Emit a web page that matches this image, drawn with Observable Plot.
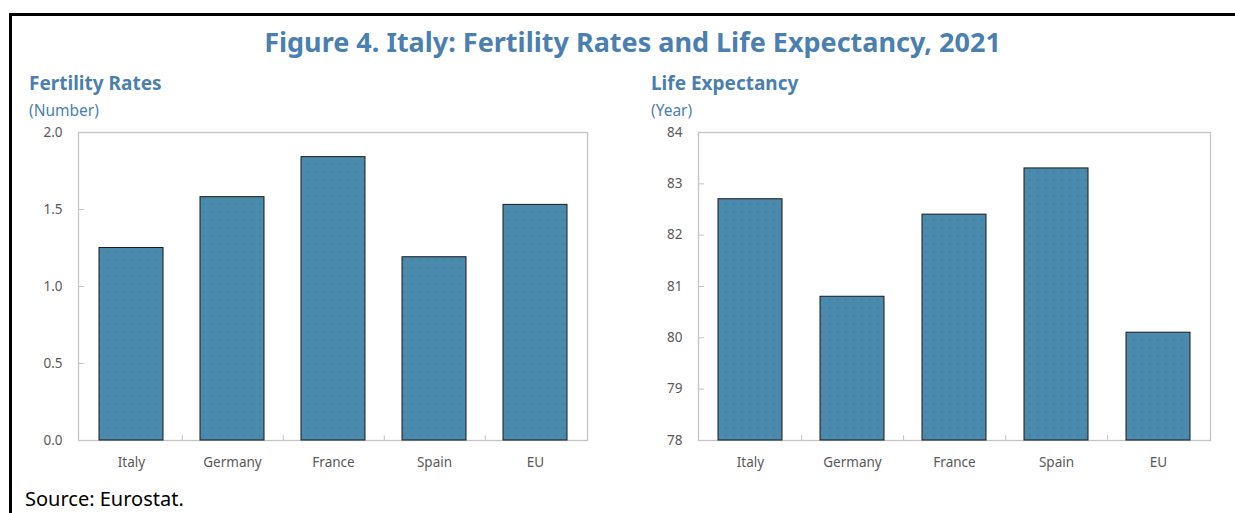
<!DOCTYPE html>
<html>
<head>
<meta charset="utf-8">
<script src="https://cdn.jsdelivr.net/npm/d3@7"></script>
<script src="https://cdn.jsdelivr.net/npm/@observablehq/plot@0.6"></script>
<style>
  html, body { margin: 0; padding: 0; background: #fff; }
  #wrap { position: relative; width: 1235px; height: 513px; overflow: hidden; font-family: "Noto Sans", "Open Sans", sans-serif; }
  .frameTop { position: absolute; left: 9px; top: 13px; width: 1226px; height: 3px; background: #000; }
  .frameLeft { position: absolute; left: 9px; top: 13px; width: 3px; height: 500px; background: #000; }
  .title { position: absolute; left: 30px; width: 1205px; top: 24px; text-align: center; font-weight: 700; font-size: 27px; line-height: 36px; color: #4a7fb0; white-space: nowrap; }
  .sub { position: absolute; font-weight: 700; font-size: 19px; line-height: 24px; color: #4a7fb0; white-space: nowrap; }
  .unit { position: absolute; font-size: 15.5px; line-height: 20px; color: #4a7fb0; white-space: nowrap; }
  .source { position: absolute; left: 25px; top: 487px; font-size: 20px; line-height: 24px; color: #000; white-space: nowrap; }
  .plot { position: absolute; top: 120px; }
</style>
</head>
<body>
<div id="wrap">
  <div class="frameTop"></div>
  <div class="frameLeft"></div>
  <div class="title">Figure 4. Italy: Fertility Rates and Life Expectancy, 2021</div>
  <div class="sub" style="left:29px; top:71px;">Fertility Rates</div>
  <div class="unit" style="left:29px; top:100px;">(Number)</div>
  <div class="sub" style="left:651px; top:71px;">Life Expectancy</div>
  <div class="unit" style="left:651px; top:100px;">(Year)</div>
  <div class="plot" id="left" style="left:0px;"></div>
  <div class="plot" id="right" style="left:610px;"></div>
  <div class="source">Source: Eurostat.</div>
</div>
<script>
const countries = ["Italy", "Germany", "France", "Spain", "EU"];
const fertility = [1.25, 1.58, 1.84, 1.19, 1.53];
const lifeExpectancy = [82.7, 80.8, 82.4, 83.3, 80.1];
const fertilityTicks = [0, 0.5, 1.0, 1.5, 2.0];
const lifeTicks = [78, 79, 80, 81, 82, 83, 84];
const fertilityDomain = [0, 2];
const lifeDomain = [78, 84];

const barFill = "#4a8aad";
const dotColor = "#3f73a3";
const fontFam = "'Noto Sans', 'Open Sans', sans-serif";
const paddingInner = 0.37;
const paddingOuter = 0.19;

const inwardTick = {
  draw(context, l) { context.moveTo(0, 0); context.lineTo(0, -l); }
};

function makeChart(id, values, domain, ticks, fmt, opts) {
  const data = countries.map((c, i) => ({country: c, value: values[i]}));
  const plotW = opts.width - opts.marginLeft - opts.marginRight;
  const step = plotW / (countries.length - paddingInner + 2 * paddingOuter);
  const boundaryTick = {
    draw(context, l) { context.moveTo(step / 2, 0); context.lineTo(step / 2, -l); }
  };
  const svg = Plot.plot({
    width: opts.width,
    height: 355,
    marginLeft: opts.marginLeft,
    marginRight: opts.marginRight,
    marginTop: 12,
    marginBottom: 35,
    style: {fontFamily: fontFam, fontSize: "13.5px", color: "#595959", background: "transparent"},
    x: {domain: countries, paddingInner, paddingOuter, label: null},
    y: {domain: domain, label: null},
    marks: [
      Plot.frame({stroke: "#c4c4c4", strokeWidth: 1.3}),
      Plot.vector(ticks, {y: d => d, frameAnchor: "left", length: 5, rotate: 90, anchor: "start", shape: inwardTick, stroke: "#c4c4c4", strokeWidth: 1}),
      Plot.vector(countries.slice(0, -1), {x: d => d, frameAnchor: "bottom", length: 5, rotate: 0, anchor: "start", shape: boundaryTick, stroke: "#c4c4c4", strokeWidth: 1}),
      Plot.barY(data, {x: "country", y1: () => domain[0], y2: "value", fill: `url(#dots-${id})`, stroke: "#1a1a1a", strokeWidth: 1}),
      Plot.axisY({ticks: ticks, tickFormat: fmt, tickSize: 0, tickPadding: 16, fill: "#595959", fontSize: 13.5}),
      Plot.axisX({tickSize: 0, tickPadding: 17, fill: "#595959", fontSize: 13.5})
    ]
  });
  const ns = "http://www.w3.org/2000/svg";
  const defs = document.createElementNS(ns, "defs");
  const pat = document.createElementNS(ns, "pattern");
  pat.setAttribute("id", `dots-${id}`);
  pat.setAttribute("width", "8");
  pat.setAttribute("height", "8");
  pat.setAttribute("patternUnits", "userSpaceOnUse");
  const bg = document.createElementNS(ns, "rect");
  bg.setAttribute("width", "8"); bg.setAttribute("height", "8"); bg.setAttribute("fill", barFill);
  const dot = document.createElementNS(ns, "rect");
  dot.setAttribute("x", "3"); dot.setAttribute("y", "3"); dot.setAttribute("width", "1.2"); dot.setAttribute("height", "1.2"); dot.setAttribute("fill", dotColor);
  pat.appendChild(bg); pat.appendChild(dot); defs.appendChild(pat);
  svg.insertBefore(defs, svg.firstChild);
  return svg;
}

document.getElementById("left").appendChild(
  makeChart("l", fertility, fertilityDomain, fertilityTicks, d3.format(".1f"), {width: 600, marginLeft: 78, marginRight: 13})
);
document.getElementById("right").appendChild(
  makeChart("r", lifeExpectancy, lifeDomain, lifeTicks, d3.format("d"), {width: 613, marginLeft: 88, marginRight: 13})
);
</script>
</body>
</html>
